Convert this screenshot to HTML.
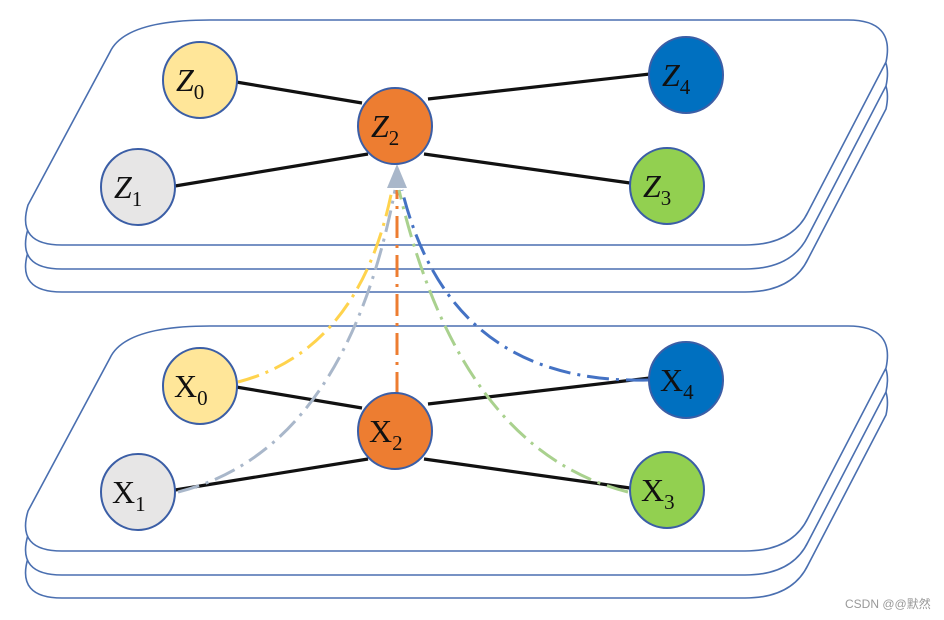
<!DOCTYPE html>
<html><head><meta charset="utf-8"><style>
html,body{margin:0;padding:0;background:#fff;width:944px;height:620px;overflow:hidden}
svg{display:block}
</style></head><body>
<svg width="944" height="620" viewBox="0 0 944 620" xmlns="http://www.w3.org/2000/svg">
<defs>
<path id="pl" d="M210,20 L848,20 Q895,20 886,62 L808,212 Q792,245 745,245 L62,245 Q16,245 28,205 L110,52 Q125,20 210,20 Z"/>
</defs>
<g fill="#fff" stroke="#4a6fb0" stroke-width="1.6">
<use href="#pl" y="47"/>
<use href="#pl" y="24"/>
<use href="#pl" y="0"/>
<use href="#pl" y="353"/>
<use href="#pl" y="330"/>
<use href="#pl" y="306"/>
</g>
<g stroke="#111" stroke-width="3.2">
<line x1="236" y1="82" x2="362" y2="103"/>
<line x1="175" y1="186" x2="368" y2="154"/>
<line x1="428" y1="99" x2="650" y2="74"/>
<line x1="424" y1="154" x2="630" y2="183"/>
<line x1="236" y1="387" x2="362" y2="408"/>
<line x1="175" y1="490" x2="368" y2="459"/>
<line x1="428" y1="404" x2="650" y2="378"/>
<line x1="424" y1="459" x2="630" y2="488"/>
</g>
<g fill="none" stroke-width="3" stroke-dasharray="22 7 3 7">
<path d="M238,382 Q360,350 392,190" stroke="#FFD34D"/>
<path d="M178,492 Q345,450 395,190" stroke="#A9B7CA"/>
<path d="M397,394 L397,190" stroke="#ED7D31"/>
<path d="M628,492 Q460,450 399,190" stroke="#A9D18E"/>
<path d="M648,380 Q450,385 402,190" stroke="#4472C4"/>
</g>
<polygon points="397,164 387,188 407,188" fill="#A9B7CA"/>
<g stroke="#3b5ea6" stroke-width="2">
<ellipse cx="200" cy="80" rx="37" ry="38" fill="#FFE699"/>
<ellipse cx="138" cy="187" rx="37" ry="38" fill="#E7E6E6"/>
<ellipse cx="395" cy="126" rx="37" ry="38" fill="#ED7D31"/>
<ellipse cx="686" cy="75" rx="37" ry="38" fill="#0070C0"/>
<ellipse cx="667" cy="186" rx="37" ry="38" fill="#92D050"/>
<ellipse cx="200" cy="386" rx="37" ry="38" fill="#FFE699"/>
<ellipse cx="138" cy="492" rx="37" ry="38" fill="#E7E6E6"/>
<ellipse cx="395" cy="431" rx="37" ry="38" fill="#ED7D31"/>
<ellipse cx="686" cy="380" rx="37" ry="38" fill="#0070C0"/>
<ellipse cx="667" cy="490" rx="37" ry="38" fill="#92D050"/>
</g>
<g font-family="Liberation Serif, serif" font-size="32" fill="#111">
<text x="176" y="91" font-style="italic">Z<tspan font-size="21" dy="8" font-style="normal">0</tspan></text>
<text x="114" y="198" font-style="italic">Z<tspan font-size="21" dy="8" font-style="normal">1</tspan></text>
<text x="371" y="137" font-style="italic">Z<tspan font-size="21" dy="8" font-style="normal">2</tspan></text>
<text x="662" y="86" font-style="italic">Z<tspan font-size="21" dy="8" font-style="normal">4</tspan></text>
<text x="643" y="197" font-style="italic">Z<tspan font-size="21" dy="8" font-style="normal">3</tspan></text>
<text x="174" y="397">X<tspan font-size="21" dy="8">0</tspan></text>
<text x="112" y="503">X<tspan font-size="21" dy="8">1</tspan></text>
<text x="369" y="442">X<tspan font-size="21" dy="8">2</tspan></text>
<text x="660" y="391">X<tspan font-size="21" dy="8">4</tspan></text>
<text x="641" y="501">X<tspan font-size="21" dy="8">3</tspan></text>
</g>
<text x="845" y="608" font-family="Liberation Sans, Noto Sans CJK SC, sans-serif" font-size="12" fill="#999">CSDN @@默然</text>
</svg>
</body></html>
